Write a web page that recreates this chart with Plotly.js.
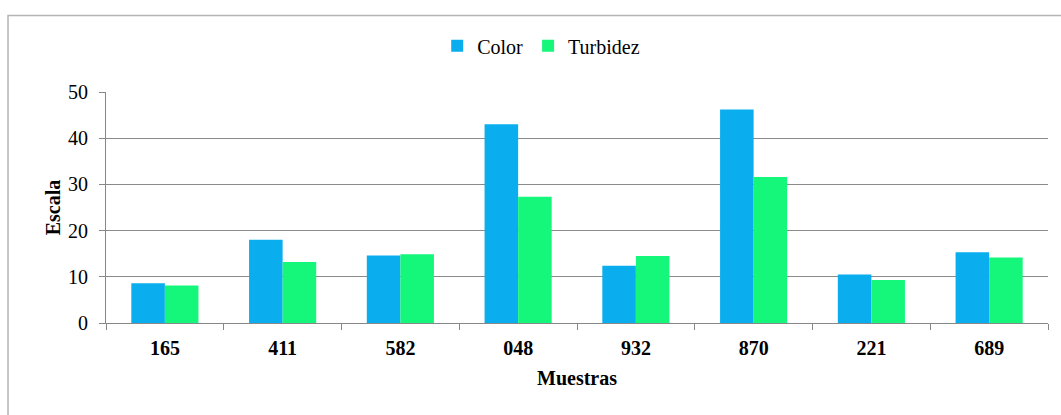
<!DOCTYPE html>
<html>
<head>
<meta charset="utf-8">
<script src="https://cdn.plot.ly/plotly-3.0.1.min.js"></script>
<style>
html,body{margin:0;padding:0;background:#fff;}
#chart{width:1061px;height:415px;}
.legendtext{font-family:'Liberation Serif','Times New Roman',serif !important;}
</style>
</head>
<body>
<div id="chart"></div>
<script>
var categories = ["165", "411", "582", "048", "932", "870", "221", "689"];
var colorValues = [8.6, 18.0, 14.6, 43.0, 12.4, 46.2, 10.5, 15.3];
var turbidezValues = [8.1, 13.2, 14.9, 27.3, 14.5, 31.6, 9.3, 14.2];
var seriesNames = ["Color", "Turbidez"];
var yTicks = [0, 10, 20, 30, 40, 50];

var serif = "Liberation Serif";

var traces = [
  {type: "bar", name: seriesNames[0], x: categories, y: colorValues,
   marker: {color: "#0AAEEF"}},
  {type: "bar", name: seriesNames[1], x: categories, y: turbidezValues,
   marker: {color: "#14F77A"}}
];

var layout = {
  width: 1061, height: 415,
  margin: {l: 106, r: 13, t: 92, b: 92},
  paper_bgcolor: "#fff", plot_bgcolor: "#fff",
  barmode: "group", bargap: 0.43, bargroupgap: 0,
  font: {family: serif, size: 20, color: "#000"},
  showlegend: true,
  legend: {orientation: "h", x: 0.462, xanchor: "center", y: 1.2, yanchor: "middle",
           font: {family: serif, size: 20, color: "#000"}, itemwidth: 30,
           bgcolor: "rgba(0,0,0,0)"},
  xaxis: {
    type: "category",
    showline: true, linecolor: "#888", linewidth: 1,
    ticks: "outside", tickson: "boundaries", ticklen: 6, tickcolor: "#888",
    ticklabelstandoff: 7,
    tickfont: {family: serif, size: 20, color: "#000", weight: "bold"},
    showgrid: false,
    title: {text: "<b>Muestras</b>", font: {family: serif, size: 20, color: "#000"}, standoff: 12}
  },
  yaxis: {
    range: [0, 50], tickvals: yTicks,
    showline: true, linecolor: "#888", linewidth: 1,
    ticks: "outside", ticklen: 6, tickcolor: "#888",
    ticklabelstandoff: 7,
    showgrid: true, gridcolor: "#8a8a8a", gridwidth: 1,
    zeroline: false,
    tickfont: {family: serif, size: 20, color: "#000"},
    title: {text: "<b>Escala</b>", font: {family: serif, size: 20, color: "#000"}, standoff: 2}
  },
  shapes: [
    {type: "rect", xref: "paper", yref: "paper",
     x0: -0.104, x1: 1.2, y0: -0.6, y1: 1.331,
     line: {color: "#b5b5b5", width: 1.5}, fillcolor: "rgba(0,0,0,0)", layer: "below"}
  ]
};

Plotly.newPlot("chart", traces, layout, {displayModeBar: false, staticPlot: true});
</script>
</body>
</html>
